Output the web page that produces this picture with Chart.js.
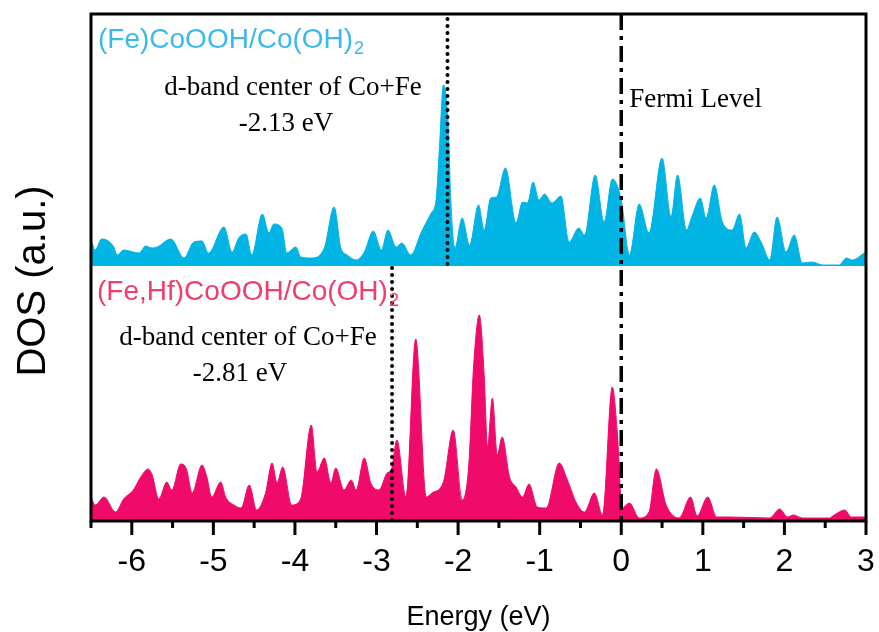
<!DOCTYPE html>
<html lang="en">
<head>
    <meta charset="UTF-8">
    <title>DOS - (Fe)CoOOH / (Fe,Hf)CoOOH</title>
    <script src="https://cdn.jsdelivr.net/npm/chart.js"></script>
    <style>
        body {
            margin: 0;
            background: #fff;
        }

        .chart-box {
            position: relative;
            width: 879px;
            height: 632px;
        }
    </style>
</head>
<body>

    <div class="chart-box">
        <canvas id="dosChart"></canvas>
    </div>

    <script>
        // Energy axis labels (eV)
        const xTicks = [-6, -5, -4, -3, -2, -1, 0, 1, 2, 3];

        // (Fe)CoOOH/Co(OH)2 - upper panel
        const topEnergy = [-6.50, -6.45, -6.37, -6.22, -6.18, -6.10, -5.98, -5.91, -5.83, -5.75, -5.69, -5.52, -5.36, -5.24, -5.14, -5.06,
            -4.87, -4.77, -4.69, -4.60, -4.53, -4.40, -4.32, -4.26, -4.16, -4.10, -3.99, -3.93, -3.80, -3.64, -3.52, -3.44, -3.36,
            -3.25, -3.15, -3.04, -2.94, -2.86, -2.76, -2.69, -2.58, -2.45, -2.33, -2.27, -2.23, -2.18, -2.12, -2.09, -2.04, -1.95,
            -1.86, -1.75, -1.68, -1.60, -1.53, -1.42, -1.29, -1.21, -1.15, -1.08, -1.01, -0.94, -0.85, -0.74, -0.64, -0.52, -0.45,
            -0.32, -0.21, -0.11, 0.00, 0.10, 0.22, 0.34, 0.50, 0.61, 0.69, 0.80, 0.86, 0.97, 1.04, 1.14, 1.24, 1.36, 1.45, 1.53,
            1.63, 1.72, 1.82, 1.91, 2.02, 2.12, 2.22, 2.34, 2.47, 2.67, 2.76, 2.83, 2.98, 3.00];
        const topDos = [0.27, 0.16, 0.27, 0.19, 0.11, 0.16, 0.14, 0.13, 0.20, 0.18, 0.19, 0.27, 0.08, 0.24, 0.25, 0.13,
            0.39, 0.14, 0.28, 0.32, 0.11, 0.52, 0.33, 0.42, 0.38, 0.13, 0.19, 0.09, 0.08, 0.18, 0.59, 0.19, 0.11,
            0.06, 0.14, 0.35, 0.16, 0.36, 0.19, 0.23, 0.11, 0.34, 0.53, 0.66, 1.16, 1.81, 1.39, 0.66, 0.18, 0.48,
            0.21, 0.61, 0.36, 0.68, 0.69, 0.98, 0.43, 0.64, 0.63, 0.84, 0.66, 0.72, 0.63, 0.70, 0.24, 0.38, 0.31,
            0.91, 0.44, 0.87, 0.66, 0.11, 0.62, 0.33, 1.08, 0.49, 0.91, 0.36, 0.48, 0.68, 0.48, 0.81, 0.44, 0.36, 0.52, 0.18,
            0.34, 0.23, 0.06, 0.49, 0.14, 0.31, 0.03, 0.04, 0.01, 0.01, 0.08, 0.06, 0.13, 0.14];

        // (Fe,Hf)CoOOH/Co(OH)2 - lower panel
        const botEnergy = [-6.50, -6.45, -6.34, -6.20, -6.10, -5.98, -5.89, -5.80, -5.75, -5.67, -5.57, -5.51, -5.40, -5.33, -5.26,
            -5.14, -5.08, -5.02, -4.91, -4.85, -4.75, -4.66, -4.56, -4.47, -4.36, -4.28, -4.22, -4.15, -4.04, -3.93, -3.80, -3.73,
            -3.64, -3.56, -3.50, -3.40, -3.31, -3.25, -3.15, -3.07, -2.97, -2.87, -2.82, -2.75, -2.64, -2.52, -2.39, -2.32, -2.18,
            -2.06, -1.95, -1.87, -1.81, -1.74, -1.68, -1.64, -1.58, -1.52, -1.46, -1.37, -1.29, -1.21, -1.13, -1.03, -0.92, -0.76,
            -0.66, -0.55, -0.45, -0.33, -0.23, -0.11, -0.05, 0.01, 0.10, 0.22, 0.34, 0.43, 0.55, 0.71, 0.85, 0.93, 1.06, 1.17,
            1.33, 1.82, 1.94, 2.04, 2.11, 2.22, 2.55, 2.61, 2.74, 2.82, 2.98, 3.00];
        const botDos = [0.24, 0.16, 0.24, 0.09, 0.22, 0.31, 0.44, 0.52, 0.46, 0.22, 0.39, 0.31, 0.57, 0.52, 0.28,
            0.56, 0.44, 0.24, 0.39, 0.24, 0.16, 0.13, 0.36, 0.11, 0.28, 0.58, 0.38, 0.54, 0.16, 0.22, 0.96, 0.49,
            0.63, 0.38, 0.53, 0.31, 0.41, 0.31, 0.63, 0.38, 0.31, 0.48, 0.51, 0.81, 0.24, 1.82, 0.24, 0.28, 0.39,
            0.91, 0.21, 0.55, 1.55, 2.06, 1.45, 0.74, 1.23, 0.66, 0.84, 0.44, 0.34, 0.24, 0.37, 0.14, 0.13, 0.58,
            0.41, 0.18, 0.09, 0.28, 0.06, 1.34, 0.90, 0.13, 0.18, 0.03, 0.09, 0.52, 0.16, 0.03, 0.24, 0.05, 0.24, 0.04,
            0.04, 0.03, 0.12, 0.04, 0.06, 0.03, 0.03, 0.06, 0.11, 0.04, 0.04, 0.04];

        // d-band centres and Fermi level (eV)
        const dbandTop = -2.13;
        const dbandBot = -2.81;
        const fermiLevel = 0;

        const cyanFill = '#00b4e4';
        const cyanText = '#3cb9ec';
        const pinkFill = '#f00a69';
        const pinkText = '#f23c6c';
        const sans = 'Liberation Sans, Arial, sans-serif';
        const serif = 'Liberation Serif, Times New Roman, serif';

        function vline(ctx, x, y0, y1) {
            ctx.beginPath();
            ctx.moveTo(x, y0);
            ctx.lineTo(x, y1);
            ctx.stroke();
        }

        // formula with a subscript at the end
        function formula(ctx, text, sub, x, y, color) {
            ctx.fillStyle = color;
            ctx.textAlign = 'left';
            ctx.font = '28px ' + sans;
            ctx.fillText(text, x, y);
            const w = ctx.measureText(text).width;
            ctx.font = '18px ' + sans;
            ctx.fillText(sub, x + w + 1, y + 6);
        }

        // frame, minor ticks, marker lines and labels
        const decor = {
            id: 'decor',
            afterDatasetsDraw(chart) {
                const { ctx, chartArea: a, scales } = chart;
                const x = scales.x, yT = scales.yTop, yB = scales.yBot;
                ctx.save();
                ctx.strokeStyle = '#000';

                // d-band centre lines (dotted)
                ctx.lineCap = 'round';
                ctx.lineWidth = 4;
                ctx.setLineDash([0, 7]);
                vline(ctx, x.getPixelForValue(dbandTop), yT.top + 5, yT.bottom);
                vline(ctx, x.getPixelForValue(dbandBot), yB.top + 2, yB.bottom);

                // Fermi level (dash-dot)
                ctx.lineCap = 'butt';
                ctx.lineWidth = 3.5;
                ctx.setLineDash([16, 6, 4, 6]);
                vline(ctx, x.getPixelForValue(fermiLevel), a.top, a.bottom);
                ctx.setLineDash([]);

                // frame
                ctx.lineWidth = 3;
                ctx.strokeRect(a.left, a.top, a.right - a.left, a.bottom - a.top);

                // tick marks: long at each eV, short at half eV
                for (let v = x.min; v <= x.max + 1e-9; v += 0.5) {
                    const px = x.getPixelForValue(v);
                    vline(ctx, px, a.bottom, a.bottom + (Number.isInteger(v) ? 14 : 7));
                }

                // labels
                formula(ctx, '(Fe)CoOOH/Co(OH)', '2', 98, 48, cyanText);
                formula(ctx, '(Fe,Hf)CoOOH/Co(OH)', '2', 97, 300, pinkText);

                ctx.fillStyle = '#000';
                ctx.font = '27px ' + serif;
                ctx.textAlign = 'center';
                ctx.fillText('d-band center of Co+Fe', 293, 95);
                ctx.fillText('-2.13 eV', 286, 131);
                ctx.fillText('d-band center of Co+Fe', 248, 345);
                ctx.fillText('-2.81 eV', 240, 381);
                ctx.textAlign = 'left';
                ctx.fillText('Fermi Level', x.getPixelForValue(fermiLevel) + 8, 107);

                // y axis title
                ctx.translate(34, 281);
                ctx.rotate(-Math.PI / 2);
                ctx.font = '40px ' + sans;
                ctx.textAlign = 'center';
                ctx.textBaseline = 'middle';
                ctx.fillText('DOS (a.u.)', 0, 0);
                ctx.restore();
            }
        };

        const hiddenY = {
            type: 'linear',
            position: 'left',
            stack: 'dos',
            min: 0,
            grid: { display: false, drawTicks: false },
            border: { display: false },
            ticks: { display: false },
            afterFit: s => { s.width = 0; }
        };

        const ctx = document.getElementById('dosChart').getContext('2d');
        const dosChart = new Chart(ctx, {
            type: 'line',
            data: {
                datasets: [{
                    label: '(Fe)CoOOH/Co(OH)2',
                    data: topEnergy.map((e, i) => ({ x: e, y: topDos[i] })),
                    yAxisID: 'yTop',
                    borderColor: cyanFill,
                    backgroundColor: cyanFill,
                    borderWidth: 1,
                    fill: 'origin',
                    pointRadius: 0,
                    cubicInterpolationMode: 'monotone'
                }, {
                    label: '(Fe,Hf)CoOOH/Co(OH)2',
                    data: botEnergy.map((e, i) => ({ x: e, y: botDos[i] })),
                    yAxisID: 'yBot',
                    borderColor: pinkFill,
                    backgroundColor: pinkFill,
                    borderWidth: 1,
                    fill: 'origin',
                    pointRadius: 0,
                    cubicInterpolationMode: 'monotone'
                }]
            },
            options: {
                responsive: true,
                maintainAspectRatio: false,
                animation: false,
                layout: { padding: { left: 91, right: 13, top: 14, bottom: 0 } },
                plugins: {
                    legend: { display: false },
                    tooltip: { enabled: false }
                },
                scales: {
                    x: {
                        type: 'linear',
                        min: -6.5,
                        max: 3,
                        afterBuildTicks: s => { s.ticks = xTicks.map(v => ({ value: v })); },
                        afterFit: s => {
                            s.height = 111;
                            s.paddingLeft = 0;
                            s.paddingRight = 0;
                        },
                        grid: { display: false, drawTicks: false },
                        border: { display: false },
                        ticks: {
                            color: '#000',
                            font: { family: sans, size: 32 },
                            padding: 22,
                            maxRotation: 0,
                            autoSkip: false
                        },
                        title: {
                            display: true,
                            text: 'Energy (eV)',
                            color: '#000',
                            font: { family: sans, size: 27 },
                            padding: { top: 0, bottom: -2 }
                        }
                    },
                    yTop: { ...hiddenY, max: 2.52, stackWeight: 252, weight: 2 },
                    yBot: { ...hiddenY, max: 2.55, stackWeight: 255, weight: 1 }
                }
            },
            plugins: [decor]
        });
    </script>

</body>
</html>
